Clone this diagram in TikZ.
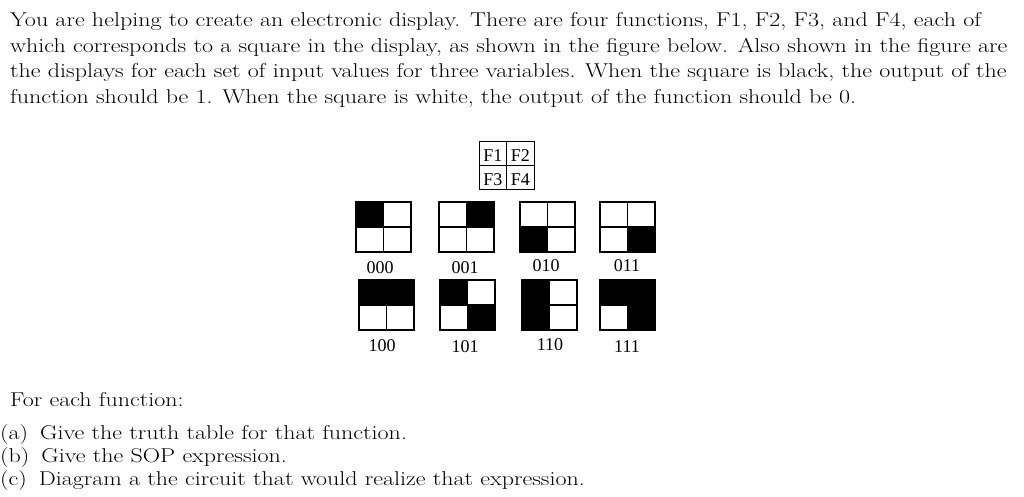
\documentclass[tikz,border=0pt]{standalone}
\usepackage{fontspec}
\newfontfamily\fig{Liberation Serif}
\newcommand\wide[1]{\scalebox{1.2}[1]{#1}}
\begin{document}
\begin{tikzpicture}[x=1pt,y=-1pt,
  txt/.style={anchor=base west,inner sep=0,font=\fontsize{20}{25}\selectfont},
  lab/.style={anchor=base,inner sep=0,font=\fig\fontsize{18}{20}\selectfont},
  cell/.style={draw,line width=1.3pt}]
\useasboundingbox (0,0) rectangle (1024,496);
\node[txt] (l1) at (10,26) {\wide{You are helping to create an electronic display. There are four functions, F1, F2, F3, and F4, each of}};
\node[txt] (l2) at (10,52) {\wide{which corresponds to a square in the display, as shown in the figure below. Also shown in the figure are}};
\node[txt] (l3) at (10,77) {\wide{the displays for each set of input values for three variables. When the square is black, the output of the}};
\node[txt] (l4) at (10,103) {\wide{function should be 1. When the square is white, the output of the function should be 0.}};
% key
\draw[line width=1pt] (479,141) rectangle (534,189) (506.5,141)--(506.5,189) (479,165)--(534,165);
\node[lab] (k1) at (492.75,161) {F1};
\node[lab] (k2) at (520.25,161) {F2};
\node[lab] (k3) at (492.75,185) {F3};
\node[lab] (k4) at (520.25,185) {F4};
\newcommand\disp[6]{%
  \def\w{27.5}\def\h{25}%
  \ifnum#3=1 \fill (#1,#2) rectangle ++(\w,\h);\fi
  \ifnum#4=1 \fill (#1+\w,#2) rectangle ++(\w,\h);\fi
  \ifnum#5=1 \fill (#1,#2+\h) rectangle ++(\w,\h);\fi
  \ifnum#6=1 \fill (#1+\w,#2+\h) rectangle ++(\w,\h);\fi
  \draw[cell] (#1,#2) rectangle ++(55,50) (#1+\w,#2)--++(0,50) (#1,#2+\h)--++(55,0);}
\disp{356}{202}1000
\disp{439}{202}0100
\disp{520}{202}0010
\disp{600}{202}0001
\disp{359}{280}1100
\disp{440}{280}1001
\disp{522}{280}1010
\disp{600}{280}1101
\node[lab] (a0) at (380,273) {000};
\node[lab] (a1) at (465,273) {001};
\node[lab] (a2) at (546,271) {010};
\node[lab] (a3) at (627,271) {011};
\node[lab] (a4) at (382,351) {100};
\node[lab] (a5) at (465,352) {101};
\node[lab] (a6) at (550,350) {110};
\node[lab] (a7) at (627,352) {111};
\node[txt] (f) at (10,406) {\wide{For each function:}};
\node[txt] (qa) at (0,439) {\wide{(a)\enspace Give the truth table for that function.}};
\node[txt] (qb) at (0,462) {\wide{(b)\enspace Give the SOP expression.}};
\node[txt] (qc) at (0,485) {\wide{(c)\enspace Diagram a the circuit that would realize that expression.}};
\end{tikzpicture}
\end{document}
